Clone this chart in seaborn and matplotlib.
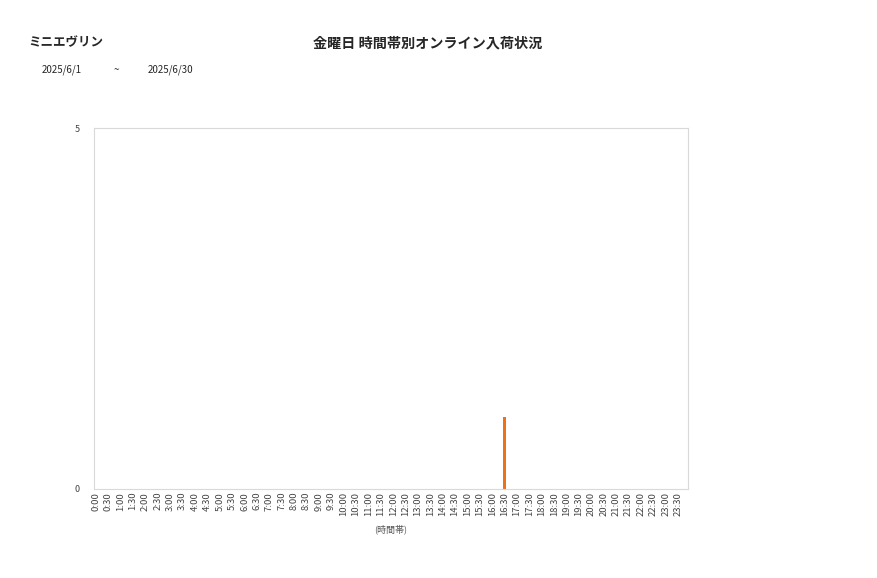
import matplotlib
matplotlib.use("Agg")
import matplotlib.pyplot as plt
import seaborn as sns
import pandas as pd

# time slots 0:00 .. 23:30
slots = [f"{h}:{m:02d}" for h in range(24) for m in (0, 30)]
counts = [0] * 48
counts[slots.index("16:30")] = 1

shop = "ミニエヴリン"
title = "金曜日 時間帯別オンライン入荷状況"
date_from = "2025/6/1"
date_to = "2025/6/30"

sns.set_style("white")
plt.rcParams["font.family"] = ["Noto Sans CJK JP", "DejaVu Sans"]

df = pd.DataFrame({"slot": slots, "count": counts})

fig = plt.figure(figsize=(8.77, 5.78), dpi=100)
ax = fig.add_axes([94 / 877, 1 - 489 / 578, 594 / 877, 361 / 578])

sns.barplot(data=df, x="slot", y="count", color="#f07018", saturation=1,
            width=0.25, linewidth=0, ax=ax)

ax.set_ylim(0, 5)
ax.set_yticks([0, 5])
ax.set_xlim(-0.16, 47.8)
ax.tick_params(axis="x", labelrotation=90, labelsize=6.8, length=0, pad=2, colors="#444444")
ax.tick_params(axis="y", labelsize=6.5, length=0, pad=10, colors="#444444")
ax.set_xlabel("(時間帯)", fontsize=6.5, color="#555555", labelpad=6)
ax.set_ylabel("")
for s in ax.spines.values():
    s.set_color("#d9d9d9")
    s.set_linewidth(0.8)

fig.text(28 / 877, 1 - 43 / 578, shop, fontsize=9, fontweight="bold", va="center", ha="left")
fig.text(428 / 877, 1 - 43 / 578, title, fontsize=10.2, fontweight="bold", va="center", ha="center")
fig.text(42 / 877, 1 - 70 / 578, date_from, fontsize=7, va="center", ha="left")
fig.text(114 / 877, 1 - 70 / 578, "~", fontsize=7, va="center", ha="left")
fig.text(148 / 877, 1 - 70 / 578, date_to, fontsize=7, va="center", ha="left")

fig.savefig("out.png", dpi=100)
